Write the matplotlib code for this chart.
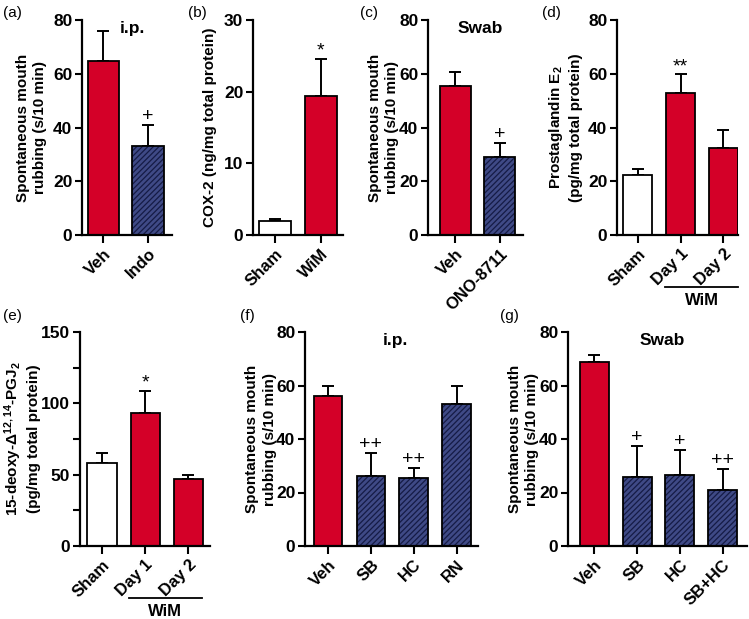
import matplotlib.pyplot as plt
import numpy as np

plt.rcParams['font.family'] = ['Liberation Sans', 'DejaVu Sans']
plt.rcParams['mathtext.default'] = 'regular'
plt.rcParams['hatch.linewidth'] = 0.9

RED = '#d40028'
NAVY = '#3f4a86'
HATCH = '#151b45'

# (a) i.p. indomethacin
a_labels = ['Veh', 'Indo']
a_mean = [64.8, 33.2]
a_err = [11.2, 7.8]
a_fill = ['r', 'h']

# (b) COX-2
b_labels = ['Sham', 'WiM']
b_mean = [1.9, 19.4]
b_err = [0.4, 5.1]
b_fill = ['w', 'r']

# (c) swab ONO-8711
c_labels = ['Veh', 'ONO-8711']
c_mean = [55.6, 29.0]
c_err = [5.0, 5.2]
c_fill = ['r', 'h']

# (d) PGE2
d_labels = ['Sham', 'Day 1', 'Day 2']
d_mean = [22.2, 53.0, 32.5]
d_err = [2.3, 7.0, 6.5]
d_fill = ['w', 'r', 'r']

# (e) 15d-PGJ2
e_labels = ['Sham', 'Day 1', 'Day 2']
e_mean = [58.0, 93.5, 47.0]
e_err = [7.0, 15.0, 3.0]
e_fill = ['w', 'r', 'r']

# (f) i.p. antagonists
f_labels = ['Veh', 'SB', 'HC', 'RN']
f_mean = [56.2, 26.2, 25.5, 53.2]
f_err = [3.8, 8.4, 3.6, 6.8]
f_fill = ['r', 'h', 'h', 'h']

# (g) swab antagonists
g_labels = ['Veh', 'SB', 'HC', 'SB+HC']
g_mean = [68.6, 25.7, 26.7, 21.0]
g_err = [2.8, 11.8, 9.2, 7.9]
g_fill = ['r', 'h', 'h', 'h']

fig = plt.figure(figsize=(7.49, 6.19), dpi=100)
W, H = 749.0, 619.0


def add_ax(x0, ytop, x1, ybot):
    return fig.add_axes([x0 / W, 1 - ybot / H, (x1 - x0) / W, (ybot - ytop) / H])


def panel(ax, labels, mean, err, fill, ylim, yticks, ylabel, lab_x, xlim, width=0.7):
    x = np.arange(len(labels))
    for i in range(len(labels)):
        if fill[i] == 'h':
            ax.bar(x[i], mean[i], width, color=NAVY, edgecolor=HATCH, hatch='//////',
                   linewidth=0, zorder=2)
            ax.bar(x[i], mean[i], width, fill=False, edgecolor='black', linewidth=1.3, zorder=3)
        else:
            fc = RED if fill[i] == 'r' else 'white'
            ax.bar(x[i], mean[i], width, color=fc, edgecolor='black', linewidth=1.3, zorder=2)
    ax.errorbar(x, mean, yerr=[np.zeros(len(err)), err], fmt='none', ecolor='black',
                elinewidth=1.4, capsize=4.5, capthick=1.4, zorder=1)
    ax.set_xlim(*xlim)
    ax.set_ylim(*ylim)
    ax.set_yticks(yticks)
    ax.set_xticks(x)
    ax.set_xticklabels(labels, rotation=45, ha='right', rotation_mode='anchor',
                       fontsize=12, fontweight='bold')
    for t in ax.get_yticklabels():
        t.set_fontweight('bold')
        t.set_fontsize(12.5)
    for s in ['top', 'right']:
        ax.spines[s].set_visible(False)
    for s in ['left', 'bottom']:
        ax.spines[s].set_linewidth(1.6)
    ax.tick_params(width=1.5, length=5, pad=2)
    ax.tick_params(axis='x', length=6)
    ax.set_ylabel(ylabel, fontsize=11, fontweight='bold', va='center', linespacing=1.3)
    ax.yaxis.set_label_coords(lab_x, 0.5)
    return x


def marks(ax, x, mean, err, txt, pad):
    for xi, m, e, t in zip(x, mean, err, txt):
        if t:
            ax.text(xi, m + e + pad, t, ha='center', va='bottom', fontsize=14)


def wim(ax, x0, x1):
    tr = ax.get_xaxis_transform()
    ax.plot([x0, x1], [-0.243, -0.243], color='black', lw=1.3, transform=tr, clip_on=False)
    ax.text((x0 + x1) / 2, -0.27, 'WiM', transform=tr, ha='center', va='top',
            fontsize=12, fontweight='bold')


mouth = 'Spontaneous mouth\nrubbing (s/10 min)'

ax = add_ax(82, 20, 172, 235)
x = panel(ax, a_labels, a_mean, a_err, a_fill, (0, 80), range(0, 81, 20), mouth, -0.56, (-0.48, 1.54))
marks(ax, x, a_mean, a_err, ['', '+'], 0.0)
ax.text(0.66, 77, 'i.p.', ha='center', va='center', fontsize=12.5, fontweight='bold')
fig.text(3 / W, 1 - 13 / H, '(a)', fontsize=11, va='center')

ax = add_ax(253, 20, 343, 235)
x = panel(ax, b_labels, b_mean, b_err, b_fill, (0, 30), range(0, 31, 10),
          'COX-2 (ng/mg total protein)', -0.48, (-0.48, 1.49))
marks(ax, x, b_mean, b_err, ['', '*'], 0.0)
fig.text(188 / W, 1 - 13 / H, '(b)', fontsize=11, va='center')

ax = add_ax(428, 20, 523, 235)
x = panel(ax, c_labels, c_mean, c_err, c_fill, (0, 80), range(0, 81, 20), mouth, -0.47, (-0.62, 1.53))
marks(ax, x, c_mean, c_err, ['', '+'], 0.0)
ax.text(0.56, 77, 'Swab', ha='center', va='center', fontsize=12.5, fontweight='bold')
fig.text(360 / W, 1 - 13 / H, '(c)', fontsize=11, va='center')

ax = add_ax(617, 20, 738, 235)
x = panel(ax, d_labels, d_mean, d_err, d_fill, (0, 80), range(0, 81, 20),
          'Prostaglandin E$_2$\n(pg/mg total protein)', -0.43, (-0.48, 2.34), width=0.67)
marks(ax, x, d_mean, d_err, ['', '**', ''], -0.5)
wim(ax, 0.64, 2.34)
fig.text(542 / W, 1 - 13 / H, '(d)', fontsize=11, va='center')

ax = add_ax(80, 332, 210, 546)
x = panel(ax, e_labels, e_mean, e_err, e_fill, (0, 150), range(0, 151, 50),
          '15-deoxy-$\\Delta^{12,14}$-PGJ$_2$\n(pg/mg total protein)', -0.45, (-0.51, 2.5), width=0.68)
ax.set_yticks([25, 75, 125], minor=True)
ax.tick_params(axis='y', which='minor', width=1.5, length=5)
marks(ax, x, e_mean, e_err, ['', '*', ''], -0.5)
wim(ax, 0.62, 2.31)
fig.text(3 / W, 1 - 316 / H, '(e)', fontsize=11, va='center')

ax = add_ax(305, 332, 478, 546)
x = panel(ax, f_labels, f_mean, f_err, f_fill, (0, 80), range(0, 81, 20), mouth, -0.255, (-0.54, 3.5), width=0.67)
marks(ax, x, f_mean, f_err, ['', '++', '++', ''], 0.0)
ax.text(1.57, 77, 'i.p.', ha='center', va='center', fontsize=12.5, fontweight='bold')
fig.text(240 / W, 1 - 316 / H, '(f)', fontsize=11, va='center')

ax = add_ax(568, 332, 747, 546)
x = panel(ax, g_labels, g_mean, g_err, g_fill, (0, 80), range(0, 81, 20), mouth, -0.25, (-0.62, 3.57), width=0.68)
marks(ax, x, g_mean, g_err, ['', '+', '+', '++'], 0.0)
ax.text(1.58, 77, 'Swab', ha='center', va='center', fontsize=12.5, fontweight='bold')
fig.text(500 / W, 1 - 316 / H, '(g)', fontsize=11, va='center')

fig.savefig('out.png', dpi=100)
